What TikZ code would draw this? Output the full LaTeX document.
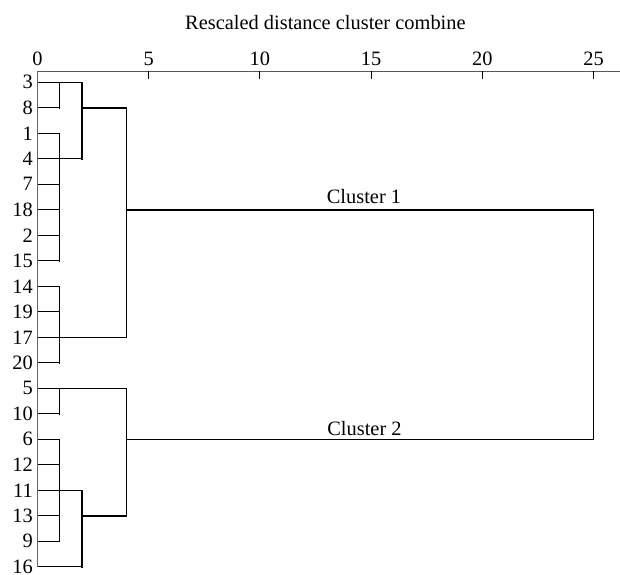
\documentclass[tikz,border=0pt]{standalone}
\usepackage{fontspec}
\setmainfont{Liberation Serif}
\begin{document}
\begin{tikzpicture}[
  txt/.style={inner sep=0pt, font=\fontsize{20.4}{24}\selectfont},
  link/.style={line width=1.5pt, black, line cap=rect},
  leaf/.style={line width=1.3pt, black},
  axisline/.style={line width=1.5pt, black!65},
  tickline/.style={line width=1.0pt, black}
]
\useasboundingbox (0,0) rectangle (620pt,-574pt);
% title and axis
\node[txt, anchor=base] (title) at (325.4pt,-29pt) {Rescaled distance cluster combine};
\coordinate (axL) at (37.5pt,-71.3pt);
\coordinate (axR) at (620pt,-71.3pt);
\draw[axisline] (axL) -- (axR);
\foreach \v in {0,5,10,15,20,25}{
  \node[txt, anchor=base] (t\v) at ({37.5pt+22.24pt*\v},-65pt) {\v};
}
\foreach \v in {5,10,15,20,25}{
  \coordinate (tk\v) at ({37.5pt+22.24pt*\v},-71.3pt);
  \draw[tickline] (tk\v) -- ++(0,-8pt);
}
\begin{scope}[shift={(37.5pt,-82.3pt)}, x=22.24pt, y=-25.5pt]
  % leaf labels
  \foreach \lab [count=\i from 0] in {3,8,1,4,7,18,2,15,14,19,17,20,5,10,6,12,11,13,9,16}{
    \coordinate (r\i) at (0,\i);
    \node[txt, anchor=east] (lab\i) at ([xshift=-4.5pt]r\i) {\lab};
  }
  % left spine
  \draw[line width=1.1pt, black!60] (axL) -- (r19);
  % leaf horizontals (to first junction)
  \foreach \i/\e in {0/2,1/1,2/1,3/2,4/1,5/1,6/1,7/1,8/1,9/1,10/4,11/1,12/4,13/1,14/1,15/1,16/2,17/1,18/1,19/2}{
    \draw[leaf] (r\i) -- ++(\e,0);
  }
  % inner horizontals
  \draw[link] (2,1) -- (4,1);
  \draw[link] (2,17) -- (4,17);
  % verticals
  \draw[link] (1,0) -- (1,1);
  \draw[link] (1,2) -- (1,7);
  \draw[link] (1,8) -- (1,11);
  \draw[link] (1,12) -- (1,13);
  \draw[link] (1,14) -- (1,18);
  \draw[link] (2,0) -- (2,3);
  \draw[link] (2,16) -- (2,19);
  \draw[link] (4,1) -- (4,10);
  \draw[link] (4,12) -- (4,17);
  % top-level merge
  \coordinate (c1) at (4,5);
  \coordinate (c2) at (4,14);
  \coordinate (c1r) at (25,5);
  \coordinate (c2r) at (25,14);
  \draw[link] (c1) -- (c1r) -- (c2r) -- (c2);
\end{scope}
\node[txt, anchor=base] (cl1) at (364pt,-203pt) {Cluster 1};
\node[txt, anchor=base] (cl2) at (364.5pt,-435pt) {Cluster 2};
\end{tikzpicture}
\end{document}
